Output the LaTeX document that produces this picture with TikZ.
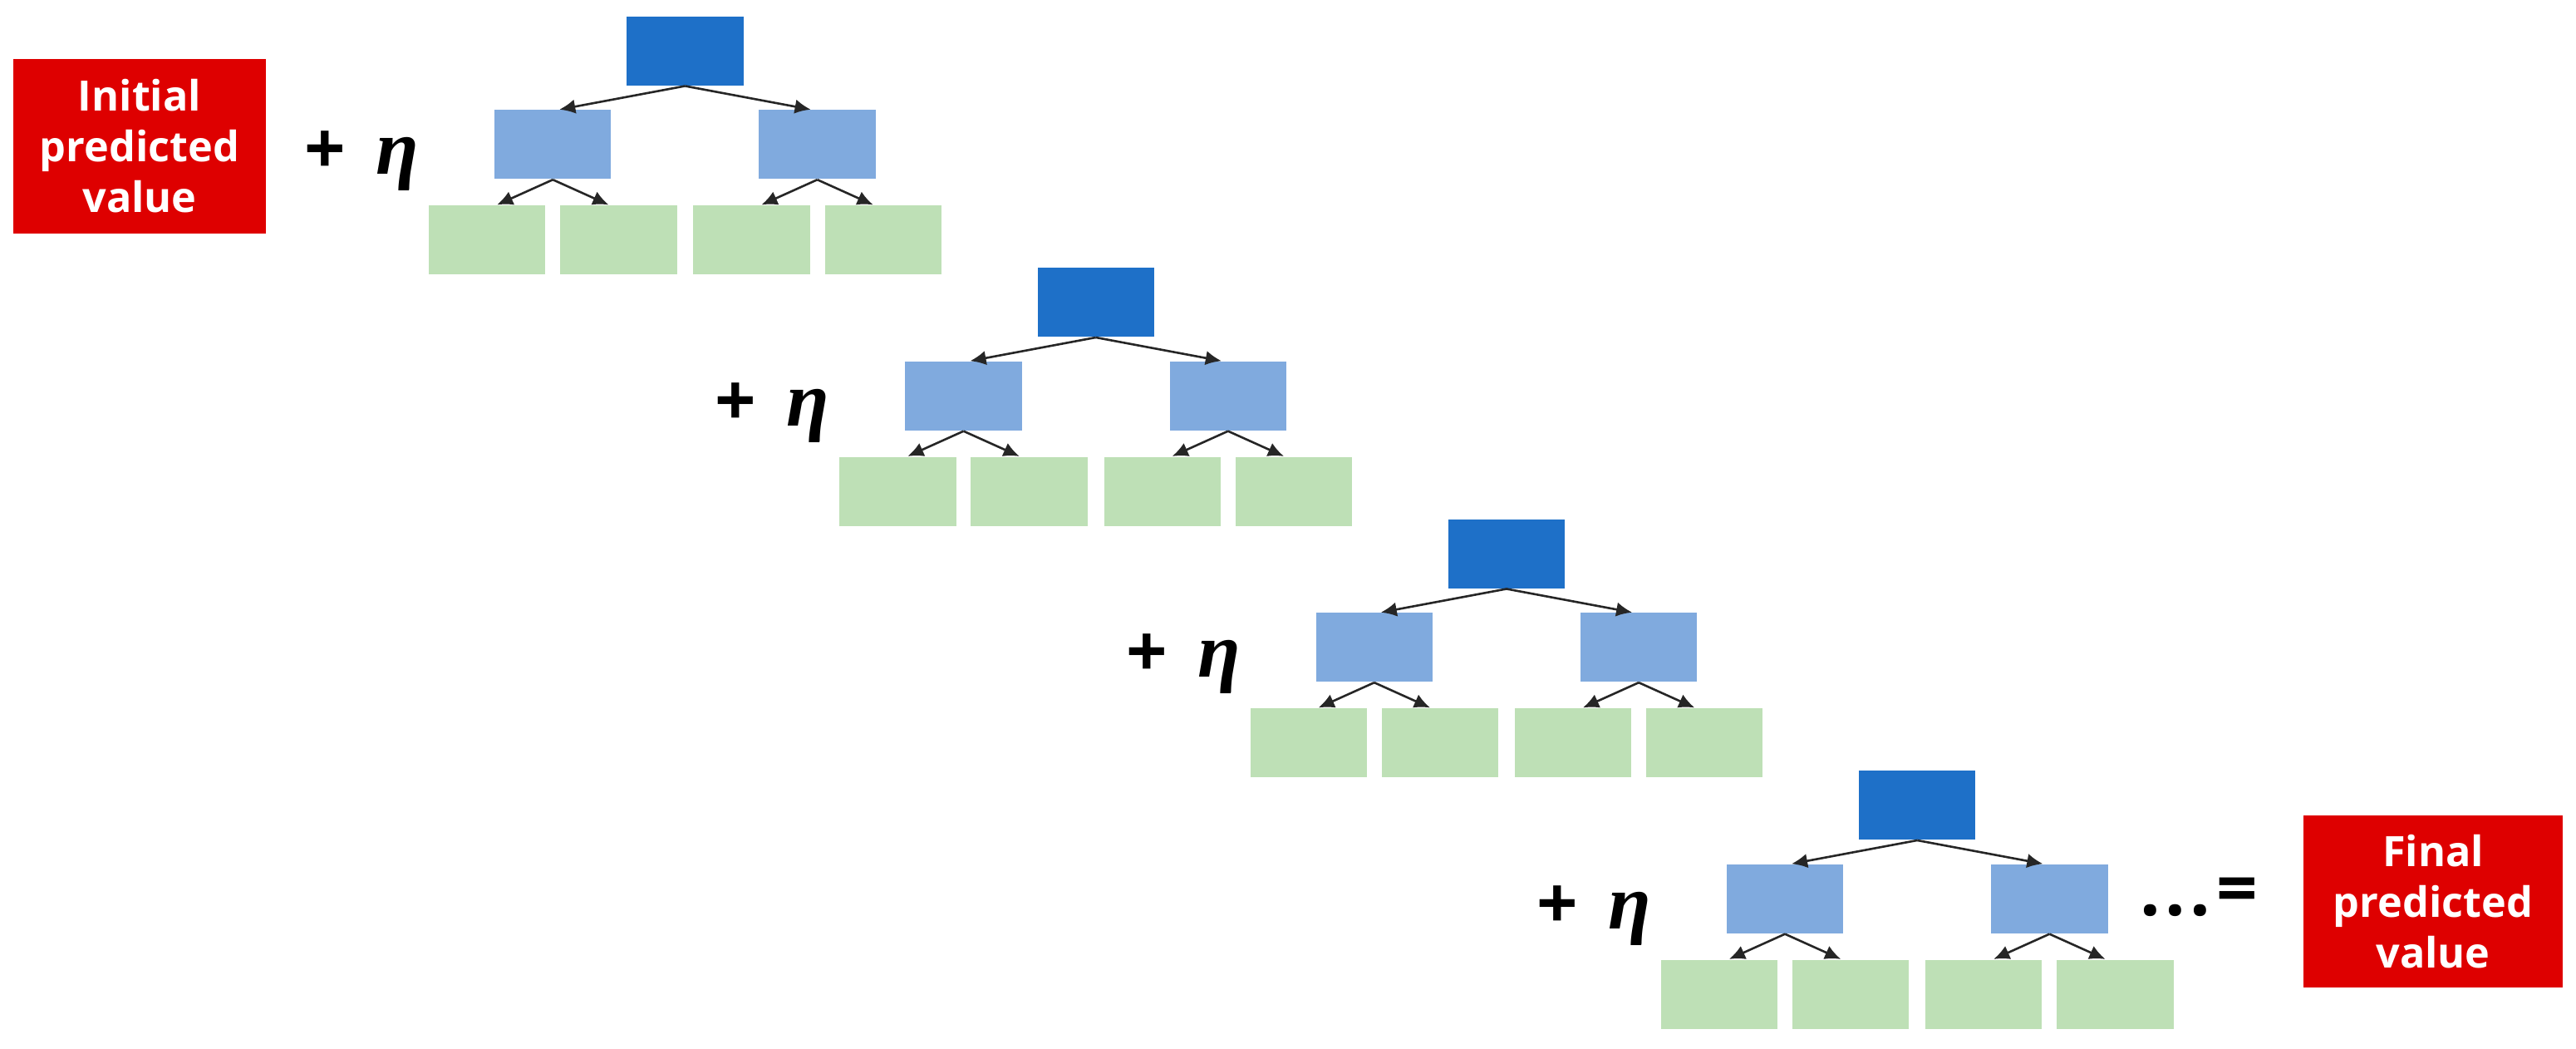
\documentclass[tikz,border=0pt]{standalone}
\usepackage{fontspec}
\setsansfont{Open Sans}
\newfontfamily\etafont{Liberation Serif}
\usetikzlibrary{arrows.meta}
\definecolor{rootblue}{RGB}{30,112,200}
\definecolor{midblue}{RGB}{128,170,222}
\definecolor{leafgreen}{RGB}{190,224,182}
\definecolor{predred}{RGB}{222,0,0}
\begin{document}
\begin{tikzpicture}[x=0.02cm,y=-0.02cm,
  box/.style={minimum width=1.42cm,minimum height=0.84cm,inner sep=0pt,draw=none},
  rootbox/.style={box,fill=rootblue},
  midbox/.style={box,fill=midblue},
  leafbox/.style={box,fill=leafgreen},
  edge/.style={-{Latex[length=5.5pt,width=5pt]},draw=black!85,line width=0.75pt},
  redbox/.style={fill=predred,text=white,align=center,inner sep=0pt,
    font=\sffamily\bfseries\fontsize{14.5}{17.6}\selectfont},
  symb/.style={inner sep=0pt,font=\sffamily\bfseries\fontsize{25}{25}\selectfont},
  eta/.style={inner sep=0pt,font=\etafont\bfseries\itshape\fontsize{27}{27}\selectfont}]
\useasboundingbox (0,0) rectangle (1568,638);
\node[redbox,minimum width=3.08cm,minimum height=2.12cm] (init) at (85,89) {Initial\\predicted\\value};
\foreach \i in {0,1,2,3}{
  \pgfmathsetmacro{\dx}{250*\i}
  \pgfmathsetmacro{\dy}{153*\i}
  \node[rootbox] (r\i) at (417+\dx,31+\dy) {};
  \node[midbox] (ml\i) at (336.5+\dx,88+\dy) {};
  \node[midbox] (mr\i) at (497.5+\dx,88+\dy) {};
  \node[leafbox] (la\i) at (296.5+\dx,146+\dy) {};
  \node[leafbox] (lb\i) at (376.5+\dx,146+\dy) {};
  \node[leafbox] (lc\i) at (457.5+\dx,146+\dy) {};
  \node[leafbox] (ld\i) at (537.5+\dx,146+\dy) {};
  \node[symb] (p\i) at (198+\dx,93+\dy) {+};
  \node[eta] (e\i) at (242+\dx,100+\dy) {η};
  \draw[edge] (r\i.south) -- ([xshift=0.08cm]ml\i.north);
  \draw[edge] (r\i.south) -- ([xshift=-0.08cm]mr\i.north);
  \draw[edge] (ml\i.south) -- ([xshift=0.12cm]la\i.north);
  \draw[edge] (ml\i.south) -- ([xshift=-0.12cm]lb\i.north);
  \draw[edge] (mr\i.south) -- ([xshift=0.12cm]lc\i.north);
  \draw[edge] (mr\i.south) -- ([xshift=-0.12cm]ld\i.north);
}
\node[symb,anchor=base] (dots) at (1324,557) {.\kern1.5pt.\kern1.5pt.};
\node[symb] (eq) at (1362,545) {=};
\node[redbox,minimum width=3.16cm,minimum height=2.1cm] (final) at (1481,548.5) {Final\\predicted\\value};
\end{tikzpicture}
\end{document}
